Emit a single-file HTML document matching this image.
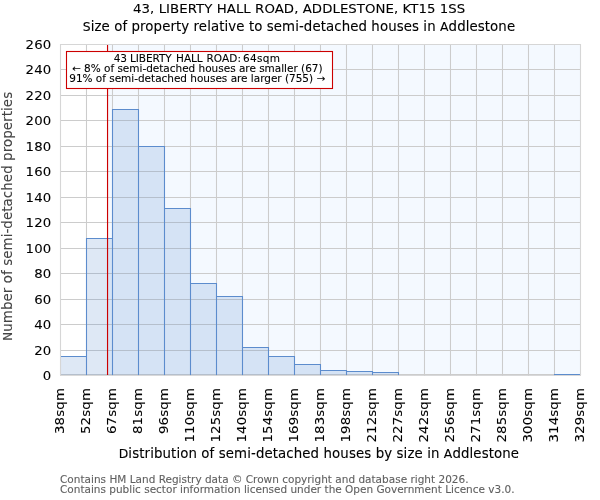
<!DOCTYPE html>
<html lang="en"><head><meta charset="utf-8"><title>43, LIBERTY HALL ROAD, ADDLESTONE, KT15 1SS</title>
<style>html,body{margin:0;padding:0;background:#fff}svg{display:block}text{white-space:pre}</style></head>
<body>
<svg width="600" height="500" viewBox="0 0 600 500" font-family="'DejaVu Sans', 'Liberation Sans', sans-serif">
<rect x="0" y="0" width="600" height="500" fill="#fff"/>
<rect x="108.6" y="44.5" width="471.9" height="331.0" fill="rgba(40,130,250,0.05)"/>
<path d="M86.50 44.50V375.6M112.50 44.50V375.6M138.50 44.50V375.6M164.50 44.50V375.6M190.50 44.50V375.6M216.50 44.50V375.6M242.50 44.50V375.6M268.50 44.50V375.6M294.50 44.50V375.6M320.50 44.50V375.6M346.50 44.50V375.6M372.50 44.50V375.6M398.50 44.50V375.6M424.50 44.50V375.6M450.50 44.50V375.6M476.50 44.50V375.6M502.50 44.50V375.6M528.50 44.50V375.6M554.50 44.50V375.6M60.50 350.50H580.50M60.50 324.50H580.50M60.50 299.50H580.50M60.50 273.50H580.50M60.50 248.50H580.50M60.50 222.50H580.50M60.50 197.50H580.50M60.50 171.50H580.50M60.50 146.50H580.50M60.50 120.50H580.50M60.50 95.50H580.50M60.50 69.50H580.50" stroke="#cccccc" stroke-width="1.07" fill="none"/>
<path d="M60.0 374.85H581.0" stroke="#cccccc" stroke-width="1.7" fill="none"/>
<path d="M60.5 375.6V44.5H580.5V375.6" stroke="#d6d6d6" stroke-width="1.07" fill="none" stroke-linejoin="miter"/>
<path d="M60.5 356.5H86.5V375H60.5ZM86.5 238.5H112.5V375H86.5ZM112.5 109.5H138.5V375H112.5ZM138.5 146.5H164.5V375H138.5ZM164.5 208.5H190.5V375H164.5ZM190.5 283.5H216.5V375H190.5ZM216.5 296.5H242.5V375H216.5ZM242.5 347.5H268.5V375H242.5ZM268.5 356.5H294.5V375H268.5ZM294.5 364.5H320.5V375H294.5ZM320.5 370.5H346.5V375H320.5ZM346.5 371.5H372.5V375H346.5ZM372.5 372.5H398.5V375H372.5ZM554.5 374.5H580.5V375H554.5Z" fill="rgba(88,138,205,0.2)" stroke="none"/>
<path d="M60.5 356.5H86.5V375M86.5 375V238.5H112.5V375M112.5 375V109.5H138.5V375M138.5 375V146.5H164.5V375M164.5 375V208.5H190.5V375M190.5 375V283.5H216.5V375M216.5 375V296.5H242.5V375M242.5 375V347.5H268.5V375M268.5 375V356.5H294.5V375M294.5 375V364.5H320.5V375M320.5 375V370.5H346.5V375M346.5 375V371.5H372.5V375M372.5 375V372.5H398.5V375M554.5 375V374.5H580.5V375" fill="none" stroke="#5c8ccd" stroke-width="1.07"/>
<path d="M107.55 44.5V375" stroke="#cc0000" stroke-width="1.15" fill="none"/>
<path d="M60.5 375.6V44.5H580.5V375.6" stroke="#d6d6d6" stroke-width="1.07" fill="none" stroke-linejoin="miter"/>
<rect x="66.5" y="51.5" width="266" height="37" fill="#fff" stroke="#cc0000" stroke-width="1.1"/>
<text transform="translate(0 61.60) scale(1 0.95)" font-size="10.5" stroke="#000" stroke-width="0.1"><tspan x="113.79" textLength="13.06" lengthAdjust="spacing">43</tspan> <tspan x="130.01" textLength="41.78" lengthAdjust="spacing">LIBERTY</tspan> <tspan x="176.06" textLength="26.65" lengthAdjust="spacing">HALL</tspan> <tspan x="206.49" textLength="34.48" lengthAdjust="spacing">ROAD:</tspan> <tspan x="243.04" textLength="37.06" lengthAdjust="spacing">64sqm</tspan></text>
<text transform="translate(71.98 71.60) scale(1 0.95)" font-size="10.5" stroke="#000" stroke-width="0.1" textLength="250.59" lengthAdjust="spacing">← 8% of semi-detached houses are smaller (67)</text>
<text transform="translate(69.27 81.70) scale(1 0.95)" font-size="10.5" stroke="#000" stroke-width="0.1" textLength="255.91" lengthAdjust="spacing">91% of semi-detached houses are larger (755) →</text>
<text transform="translate(133.03 13.10) scale(1 0.94)" font-size="13.33" stroke="#000" stroke-width="0.1" textLength="332.29" lengthAdjust="spacing">43, LIBERTY HALL ROAD, ADDLESTONE, KT15 1SS</text>
<text transform="translate(82.72 30.80)" font-size="13.33" stroke="#000" stroke-width="0.1" textLength="432.36" lengthAdjust="spacing"><tspan font-size="12.40">S</tspan>ize of property relative to semi-detached houses in <tspan font-size="12.40">A</tspan>ddlestone</text>
<text transform="translate(42.73 380.00) scale(1 0.94)" font-size="13.33" stroke="#000" stroke-width="0.1" textLength="8.56" lengthAdjust="spacing">0</text>
<text transform="translate(34.19 355.00) scale(1 0.94)" font-size="13.33" stroke="#000" stroke-width="0.1" textLength="17.12" lengthAdjust="spacing">20</text>
<text transform="translate(34.19 329.00) scale(1 0.94)" font-size="13.33" stroke="#000" stroke-width="0.1" textLength="17.12" lengthAdjust="spacing">40</text>
<text transform="translate(34.19 304.00) scale(1 0.94)" font-size="13.33" stroke="#000" stroke-width="0.1" textLength="17.12" lengthAdjust="spacing">60</text>
<text transform="translate(34.19 278.00) scale(1 0.94)" font-size="13.33" stroke="#000" stroke-width="0.1" textLength="17.12" lengthAdjust="spacing">80</text>
<text transform="translate(25.58 253.00) scale(1 0.94)" font-size="13.33" stroke="#000" stroke-width="0.1" textLength="25.67" lengthAdjust="spacing">100</text>
<text transform="translate(25.58 227.00) scale(1 0.94)" font-size="13.33" stroke="#000" stroke-width="0.1" textLength="25.67" lengthAdjust="spacing">120</text>
<text transform="translate(25.58 202.00) scale(1 0.94)" font-size="13.33" stroke="#000" stroke-width="0.1" textLength="25.67" lengthAdjust="spacing">140</text>
<text transform="translate(25.58 176.00) scale(1 0.94)" font-size="13.33" stroke="#000" stroke-width="0.1" textLength="25.67" lengthAdjust="spacing">160</text>
<text transform="translate(25.58 151.00) scale(1 0.94)" font-size="13.33" stroke="#000" stroke-width="0.1" textLength="25.67" lengthAdjust="spacing">180</text>
<text transform="translate(25.58 125.00) scale(1 0.94)" font-size="13.33" stroke="#000" stroke-width="0.1" textLength="25.67" lengthAdjust="spacing">200</text>
<text transform="translate(25.58 100.00) scale(1 0.94)" font-size="13.33" stroke="#000" stroke-width="0.1" textLength="25.67" lengthAdjust="spacing">220</text>
<text transform="translate(25.58 74.00) scale(1 0.94)" font-size="13.33" stroke="#000" stroke-width="0.1" textLength="25.67" lengthAdjust="spacing">240</text>
<text transform="translate(25.58 49.00) scale(1 0.94)" font-size="13.33" stroke="#000" stroke-width="0.1" textLength="25.67" lengthAdjust="spacing">260</text>
<text transform="translate(64.00 434.02) rotate(-90) scale(1 0.95)" font-size="13.33" stroke="#000" stroke-width="0.1" textLength="45.93" lengthAdjust="spacing">38sqm</text>
<text transform="translate(90.00 434.02) rotate(-90) scale(1 0.95)" font-size="13.33" stroke="#000" stroke-width="0.1" textLength="45.93" lengthAdjust="spacing">52sqm</text>
<text transform="translate(116.00 434.02) rotate(-90) scale(1 0.95)" font-size="13.33" stroke="#000" stroke-width="0.1" textLength="45.93" lengthAdjust="spacing">67sqm</text>
<text transform="translate(142.00 434.02) rotate(-90) scale(1 0.95)" font-size="13.33" stroke="#000" stroke-width="0.1" textLength="45.93" lengthAdjust="spacing">81sqm</text>
<text transform="translate(168.00 434.02) rotate(-90) scale(1 0.95)" font-size="13.33" stroke="#000" stroke-width="0.1" textLength="45.93" lengthAdjust="spacing">96sqm</text>
<text transform="translate(194.00 442.59) rotate(-90) scale(1 0.95)" font-size="13.33" stroke="#000" stroke-width="0.1" textLength="54.52" lengthAdjust="spacing">110sqm</text>
<text transform="translate(220.00 442.59) rotate(-90) scale(1 0.95)" font-size="13.33" stroke="#000" stroke-width="0.1" textLength="54.52" lengthAdjust="spacing">125sqm</text>
<text transform="translate(246.00 442.59) rotate(-90) scale(1 0.95)" font-size="13.33" stroke="#000" stroke-width="0.1" textLength="54.52" lengthAdjust="spacing">140sqm</text>
<text transform="translate(272.00 442.59) rotate(-90) scale(1 0.95)" font-size="13.33" stroke="#000" stroke-width="0.1" textLength="54.52" lengthAdjust="spacing">154sqm</text>
<text transform="translate(298.00 442.59) rotate(-90) scale(1 0.95)" font-size="13.33" stroke="#000" stroke-width="0.1" textLength="54.52" lengthAdjust="spacing">169sqm</text>
<text transform="translate(324.00 442.59) rotate(-90) scale(1 0.95)" font-size="13.33" stroke="#000" stroke-width="0.1" textLength="54.52" lengthAdjust="spacing">183sqm</text>
<text transform="translate(350.00 442.59) rotate(-90) scale(1 0.95)" font-size="13.33" stroke="#000" stroke-width="0.1" textLength="54.52" lengthAdjust="spacing">198sqm</text>
<text transform="translate(376.00 442.59) rotate(-90) scale(1 0.95)" font-size="13.33" stroke="#000" stroke-width="0.1" textLength="54.52" lengthAdjust="spacing">212sqm</text>
<text transform="translate(402.00 442.59) rotate(-90) scale(1 0.95)" font-size="13.33" stroke="#000" stroke-width="0.1" textLength="54.52" lengthAdjust="spacing">227sqm</text>
<text transform="translate(428.00 442.59) rotate(-90) scale(1 0.95)" font-size="13.33" stroke="#000" stroke-width="0.1" textLength="54.52" lengthAdjust="spacing">242sqm</text>
<text transform="translate(454.00 442.59) rotate(-90) scale(1 0.95)" font-size="13.33" stroke="#000" stroke-width="0.1" textLength="54.52" lengthAdjust="spacing">256sqm</text>
<text transform="translate(480.00 442.59) rotate(-90) scale(1 0.95)" font-size="13.33" stroke="#000" stroke-width="0.1" textLength="54.52" lengthAdjust="spacing">271sqm</text>
<text transform="translate(506.00 442.59) rotate(-90) scale(1 0.95)" font-size="13.33" stroke="#000" stroke-width="0.1" textLength="54.52" lengthAdjust="spacing">285sqm</text>
<text transform="translate(532.00 442.59) rotate(-90) scale(1 0.95)" font-size="13.33" stroke="#000" stroke-width="0.1" textLength="54.52" lengthAdjust="spacing">300sqm</text>
<text transform="translate(558.00 442.59) rotate(-90) scale(1 0.95)" font-size="13.33" stroke="#000" stroke-width="0.1" textLength="54.52" lengthAdjust="spacing">314sqm</text>
<text transform="translate(584.00 442.59) rotate(-90) scale(1 0.95)" font-size="13.33" stroke="#000" stroke-width="0.1" textLength="54.52" lengthAdjust="spacing">329sqm</text>
<text transform="translate(118.72 457.60)" font-size="13.33" stroke="#000" stroke-width="0.1" textLength="400.33" lengthAdjust="spacing"><tspan font-size="12.40">D</tspan>istribution of semi-detached houses by size in <tspan font-size="12.40">A</tspan>ddlestone</text>
<text transform="translate(12.20 341.08) rotate(-90)" font-size="13.33" stroke="#444" stroke-width="0.1" fill="#444" textLength="249.19" lengthAdjust="spacing"><tspan font-size="12.40">N</tspan>umber of semi-detached properties</text>
<text transform="translate(60.02 483.00) scale(1 0.95)" font-size="10.5" stroke="#606060" stroke-width="0.1" fill="#606060" textLength="408.50" lengthAdjust="spacing">Contains HM Land Registry data © Crown copyright and database right 2026.</text>
<text transform="translate(60.02 492.80) scale(1 0.95)" font-size="10.5" stroke="#606060" stroke-width="0.1" fill="#606060" textLength="454.52" lengthAdjust="spacing">Contains public sector information licensed under the Open Government Licence v3.0.</text>
</svg>
</body></html>
